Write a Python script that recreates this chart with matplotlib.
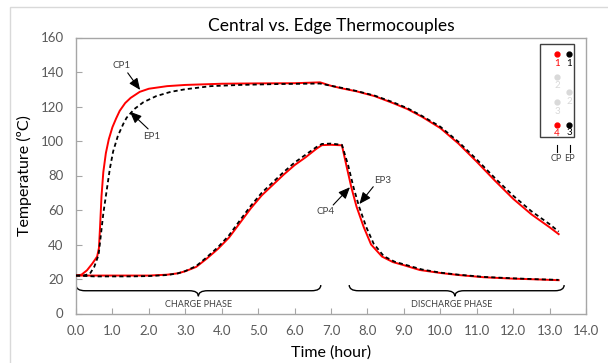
import matplotlib
matplotlib.use("Agg")
import matplotlib.pyplot as plt
from matplotlib.patches import Rectangle, PathPatch
from matplotlib.path import Path

plt.rcParams['font.family'] = ['Lato', 'DejaVu Sans']

# ---- measured temperatures (hours, degC) ----
cp1_t = [0.0, 0.15, 0.3, 0.45, 0.58, 0.63, 0.66, 0.7, 0.75, 0.82, 0.9, 1.0, 1.1, 1.2,
         1.35, 1.5, 1.75, 2.0, 2.5, 3.0, 4.0, 5.0, 6.0, 6.7, 7.0, 7.3, 7.7, 8.2, 8.7,
         9.1, 9.5, 10.0, 10.5, 11.0, 11.5, 12.0, 12.5, 13.0, 13.25]
cp1_v = [22, 22.5, 25, 29, 33, 38, 50, 68, 82, 93, 101, 108, 113, 117.5,
         122, 125, 128.5, 130.3, 131.8, 132.5, 133.2, 133.4, 133.5, 134, 132, 130.5,
         128.8, 126, 122, 118.5, 114, 107.5, 98.5, 88, 77, 66.5, 57.5, 50, 46]

ep1_t = [0.0, 0.2, 0.38, 0.5, 0.62, 0.68, 0.75, 0.84, 0.93, 1.02, 1.15, 1.3, 1.39, 1.6,
         1.85, 2.2, 2.6, 3.0, 3.7, 4.5, 5.5, 6.7, 7.0, 7.3, 7.7, 8.2, 8.7, 9.1, 9.5,
         10.0, 10.5, 11.0, 11.5, 12.0, 12.5, 13.0, 13.25]
ep1_v = [22, 22, 23, 27, 34, 45, 58, 71, 84, 94, 103, 110, 113.5, 118.5,
         122.5, 126, 128.5, 130, 131.8, 132.5, 133, 133.3, 132, 130.8, 129, 126.3,
         122.5, 119, 114.5, 108.3, 99.5, 89.3, 78.5, 68.3, 59.3, 51.8, 47.5]

cp4_t = [0.0, 0.5, 1.0, 1.5, 2.0, 2.5, 2.8, 3.0, 3.3, 3.6, 3.9, 4.2, 4.5, 4.8, 5.1,
         5.4, 5.7, 6.0, 6.3, 6.6, 6.75, 7.0, 7.3, 7.42, 7.56, 7.7, 7.9, 8.1, 8.4,
         8.7, 9.0, 9.44, 10.0, 10.5, 11.2, 12.0, 12.6, 13.25]
cp4_v = [22, 22, 22, 22, 22, 22.5, 23.3, 24.5, 27, 32, 37.5, 44, 52.5, 61, 68.5,
         74.5, 80.5, 86, 90.5, 95.5, 97.6, 97.8, 97.5, 86, 73, 62, 50, 40, 33,
         29.8, 28, 25.2, 23.5, 22.3, 21, 20.2, 19.8, 19.3]

ep3_t = [0.0, 0.5, 1.0, 1.5, 2.0, 2.5, 2.8, 3.0, 3.3, 3.6, 3.9, 4.2, 4.5, 4.8, 5.1,
         5.4, 5.7, 6.0, 6.3, 6.6, 6.75, 7.0, 7.3, 7.47, 7.62, 7.77, 7.97, 8.17, 8.45,
         8.75, 9.05, 9.5, 10.0, 10.5, 11.2, 12.0, 12.6, 13.25]
ep3_v = [22, 21.5, 21.5, 21.5, 21.7, 22.3, 23.3, 24.6, 27.5, 32.8, 38.5, 45.3, 54, 62.5, 70,
         76, 82, 87.5, 92, 96.5, 98.3, 98.5, 97.8, 86, 73, 62, 50, 40.5, 33.2,
         30, 28.2, 25.5, 23.7, 22.5, 21.2, 20.4, 19.9, 19.5]

x_ticks = [0, 1, 2, 3, 4, 5, 6, 7, 8, 9, 10, 11, 12, 13, 14]
y_ticks = [0, 20, 40, 60, 80, 100, 120, 140, 160]

W, H = 608, 363
fig = plt.figure(figsize=(W / 100, H / 100), dpi=100)
ax = fig.add_axes([76 / W, 1 - 313.5 / H, 510 / W, 276 / H])

# outer chart-area border
fig.patches.append(Rectangle((10 / W, -0.1), 1.2, 1 - 7 / H + 0.1, transform=fig.transFigure,
                             fill=False, edgecolor='#d9d9d9', lw=1.0))

grey = '#595959'
frame = '#a6a6a6'

ax.plot(cp1_t, cp1_v, color='#ff0000', lw=1.4, zorder=3)
l = ax.plot(ep1_t, ep1_v, color='black', lw=1.3, zorder=4)[0]
l.set_dashes((2.3, 1.7))
ax.plot(cp4_t, cp4_v, color='#ff0000', lw=1.4, zorder=3)
l = ax.plot(ep3_t, ep3_v, color='black', lw=1.3, zorder=4)[0]
l.set_dashes((2.3, 1.7))

ax.set_xlim(0, 14)
ax.set_ylim(0, 160)
ax.set_xticks(x_ticks)
ax.set_xticklabels([f"{v:.1f}" for v in x_ticks])
ax.set_yticks(y_ticks)
for s in ax.spines.values():
    s.set_color(frame)
    s.set_linewidth(1.0)
ax.tick_params(axis='both', direction='in', length=4, color=frame, labelcolor=grey,
               labelsize=9.5)
ax.tick_params(axis='x', pad=8)
ax.tick_params(axis='y', pad=9)

ax.set_title('Central vs. Edge Thermocouples', fontsize=12.5, color='black', pad=5)
ax.set_xlabel('Time (hour)', fontsize=11.5, color='black', labelpad=6)
ax.set_ylabel('Temperature (ºC)', fontsize=11.5, color='black', labelpad=6)


def brace(x0, x1, xm, ytop, ymid, ytip, r=0.12):
    """Curly brace opening upward, pointing down at xm."""
    verts = [(x0, ytop), (x0, ymid), (x0 + r, ymid),
             (xm - r, ymid), (xm, ymid), (xm, ytip),
             (xm, ymid), (xm + r, ymid),
             (x1 - r, ymid), (x1, ymid), (x1, ytop)]
    codes = [Path.MOVETO, Path.CURVE3, Path.CURVE3,
             Path.LINETO, Path.CURVE3, Path.CURVE3,
             Path.CURVE3, Path.CURVE3,
             Path.LINETO, Path.CURVE3, Path.CURVE3]
    ax.add_patch(PathPatch(Path(verts, codes), fill=False, edgecolor='black', lw=1.0,
                           zorder=2))


brace(0.0, 6.72, 3.36, 16.5, 13.2, 10.0, r=0.25)
brace(7.5, 13.4, 10.4, 16.5, 13.2, 10.0, r=0.25)
ax.text(3.36, 5.5, 'CHARGE PHASE', ha='center', va='center', fontsize=6.5, color='#404040')
ax.text(10.3, 5.5, 'DISCHARGE PHASE', ha='center', va='center', fontsize=6.5, color='#404040')

# callout labels with arrows pointing at the curves
arrow = dict(arrowstyle='-|>,head_length=0.7,head_width=0.3', color='black', lw=0.8,
             shrinkA=0, shrinkB=0)
callouts = [  # label, label pos, arrow tail, arrow head
    ('CP1', (1.25, 144), (1.42, 139.5), (1.76, 129.6)),
    ('EP1', (2.08, 102.5), (1.98, 107), (1.48, 117)),
    ('CP4', (6.84, 59), (7.06, 62.9), (7.52, 73.2)),
    ('EP3', (8.42, 77), (8.16, 73.5), (7.78, 63.5)),
]
for lab, tpos, tail, head in callouts:
    ax.text(*tpos, lab, fontsize=7, ha='center', va='center', color='#404040')
    ax.annotate('', xy=head, xytext=tail, arrowprops=arrow)


# thermocouple location key
def fx(px):
    return (px - 76) / 510


def fy(py):
    return (313.5 - py) / 276


T = ax.transAxes
ax.add_patch(Rectangle((fx(540), fy(137.3)), fx(574) - fx(540), fy(44) - fy(137.3),
                       transform=T, fill=False, edgecolor='#404040', lw=1.0, zorder=5))
key = [  # column px, dot py, label py, label, colour
    (557, 54, 63, '1', '#ff0000'),
    (569, 54, 63, '1', 'black'),
    (557, 77, 86, '2', '#d9d9d9'),
    (569, 91.7, 101.7, '2', '#d9d9d9'),
    (557, 101.7, 111.7, '3', '#d9d9d9'),
    (557, 125, 133.3, '4', '#ff0000'),
    (569, 125, 132.7, '3', 'black'),
]
for cx, dy, ly, lab, c in key:
    ax.plot([fx(cx)], [fy(dy)], 'o', ms=3.5, color=c, transform=T, clip_on=False, zorder=6)
    ax.text(fx(cx), fy(ly), lab, transform=T, ha='center', va='center', fontsize=7,
            color=c, zorder=6)
for cx, lab in [(556.5, 'CP'), (569.5, 'EP')]:
    ax.plot([fx(cx), fx(cx)], [fy(145), fy(151.7)], color='black', lw=0.8, transform=T,
            clip_on=False)
    ax.text(fx(cx), fy(158.5), lab, transform=T, ha='center', va='center', fontsize=6.5,
            color='#404040')

fig.savefig('out.png', dpi=100)
